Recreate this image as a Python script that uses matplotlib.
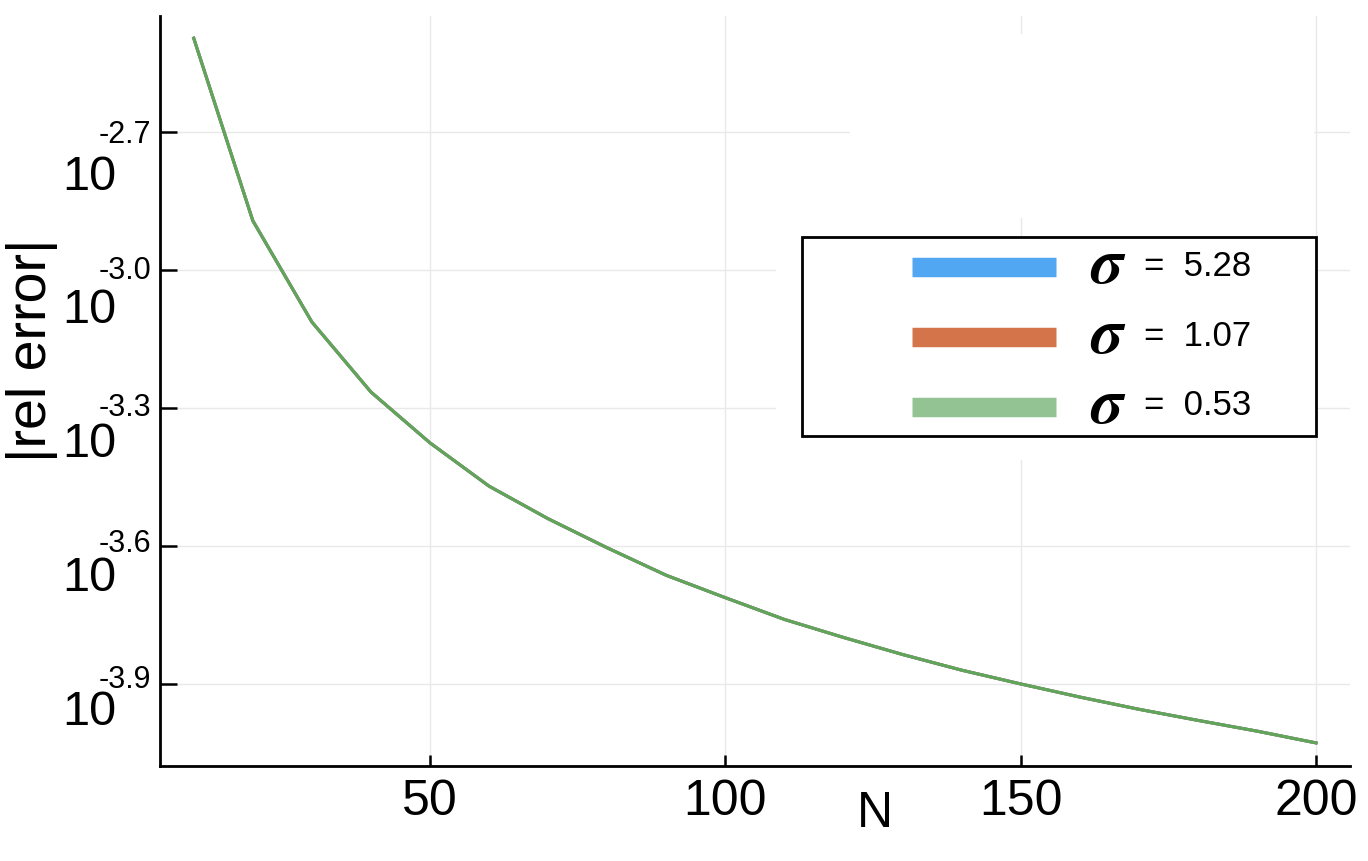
import numpy as np
import matplotlib.pyplot as plt
from matplotlib.lines import Line2D
from matplotlib.patches import Rectangle

# data

N = [10, 20, 30, 40, 50, 60, 70, 80, 90, 100,
     110, 120, 130, 140, 150, 160, 170, 180, 190, 200]
rel_error = [3.19e-3, 1.28e-3, 7.71e-4, 5.43e-4, 4.21e-4, 3.39e-4, 2.88e-4, 2.49e-4, 2.17e-4, 1.94e-4,
             1.74e-4, 1.59e-4, 1.46e-4, 1.35e-4, 1.26e-4, 1.18e-4, 1.11e-4, 1.05e-4, 9.95e-5, 9.38e-5]
sigmas = [5.28, 1.07, 0.53]
line_colors = ['#009AFA', '#E36F47', '#5FA55A']
legend_colors = ['#51A7F2', '#D4744A', '#93C393']

y_exponents = [-2.7, -3.0, -3.3, -3.6, -3.9]
x_ticks = [50, 100, 150, 200]

plt.rcParams['font.family'] = ['Liberation Sans', 'DejaVu Sans']
plt.rcParams['mathtext.fontset'] = 'stix'

W, H = 1368, 862
fig = plt.figure(figsize=(W / 100, H / 100), dpi=100)
ax = fig.add_axes([160 / W, 1 - 767 / H, 1190 / W, 750 / H])

for s, c in zip(sigmas, line_colors):
    ax.plot(N, rel_error, color=c, linewidth=2.2, zorder=3)

ax.set_yscale('log')
ax.set_xlim(4.29, 205.76)
ax.set_ylim(10 ** -4.078, 10 ** -2.448)

ax.set_xticks(x_ticks)
ax.set_xticklabels([str(t) for t in x_ticks], fontsize=36)
ax.set_yticks([10 ** e for e in y_exponents])
ax.set_yticklabels([])
ax.minorticks_off()
ax.tick_params(axis='y', direction='in', length=12, width=1.8)
ax.tick_params(axis='x', direction='in', length=8, width=1.8, pad=9)

for side in ['top', 'right']:
    ax.spines[side].set_visible(False)
for side in ['left', 'bottom']:
    ax.spines[side].set_linewidth(2)

ax.grid(color='#e9e9e9', linewidth=1, zorder=0)
ax.set_axisbelow(True)

# white patches where the grid is broken up around the legend
ax.add_patch(Rectangle((0.580, 0.731), 0.390, 0.245, transform=ax.transAxes,
                       facecolor='white', edgecolor='none', zorder=1))
ax.add_patch(Rectangle((0.518, 0.408), 0.452, 0.278, transform=ax.transAxes,
                       facecolor='white', edgecolor='none', zorder=1))

# y tick labels in the "10 with exponent" layout
for i, e in enumerate(y_exponents):
    y_px = 133 + i * 137.8
    fig.text(151 / W, 1 - (y_px + 2 - 1.5 * i) / H, '%.1f' % e, fontsize=22,
             ha='right', va='center')
    fig.text(116 / W, 1 - (y_px + 44 - 4 * i) / H, '10', fontsize=35,
             ha='right', va='center')

fig.text(32 / W, 1 - 350 / H, '|rel error|', fontsize=40, rotation=90,
         ha='center', va='center')
fig.text(875 / W, 1 - 814 / H, 'N', fontsize=36, ha='center', va='center')

# legend box
fig.patches.append(Rectangle((802 / W, 1 - 437 / H), 514 / W, 199 / H,
                             transform=fig.transFigure, facecolor='white',
                             edgecolor='black', linewidth=2, zorder=5))
for i, (s, c) in enumerate(zip(sigmas, legend_colors)):
    y = 1 - (268 + i * 70) / H
    fig.lines.append(Line2D([912 / W, 1056 / W], [y, y], transform=fig.transFigure,
                            color=c, linewidth=14, solid_capstyle='butt', zorder=6))
    fig.text(1108 / W, y + 2 / H, r'$\boldsymbol{\sigma}$', fontsize=46,
             ha='center', va='center', zorder=6)
    fig.text(1144 / W, y + 2 / H, '=  %.2f' % s, fontsize=25, ha='left',
             va='center', zorder=6)

fig.savefig('out.png', dpi=100, facecolor='white')
